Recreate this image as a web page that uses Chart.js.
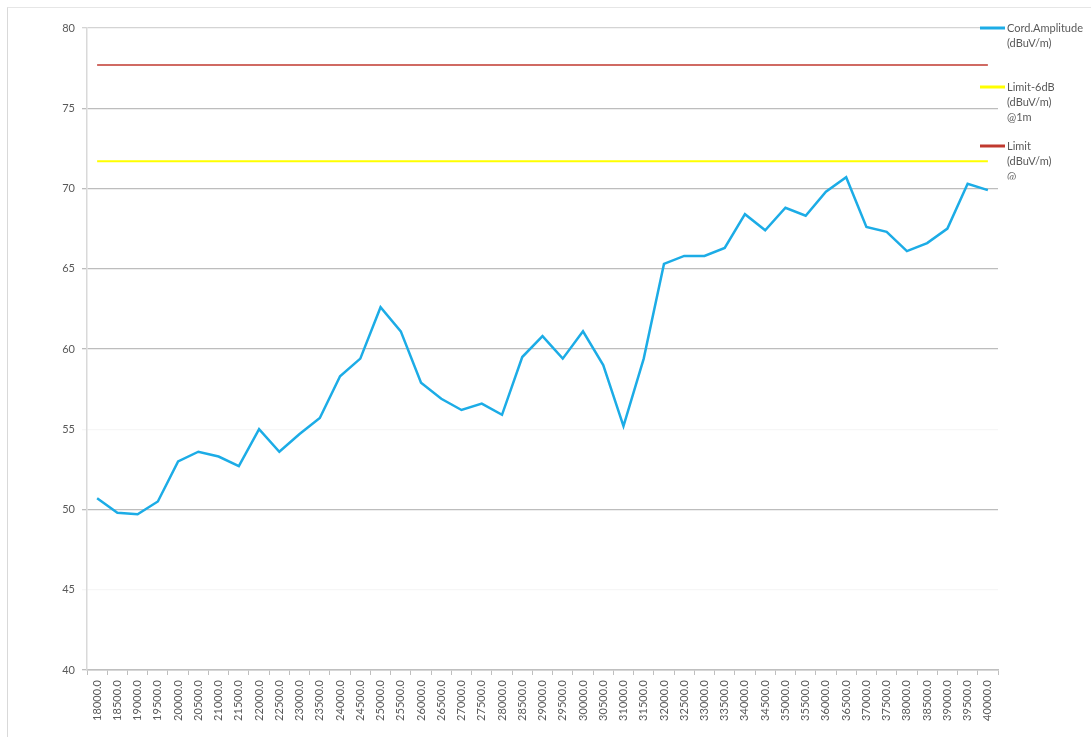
<!DOCTYPE html>
<html>
<head>
<meta charset="utf-8">
<script src="https://cdn.jsdelivr.net/npm/chart.js@4"></script>
<style>
    html, body { margin: 0; padding: 0; background: #fff; }
    .wrap { position: relative; width: 1091px; height: 737px; overflow: hidden; }
    .frame { position: absolute; left: 7px; top: 7px; width: 1100px; height: 740px;
             border-left: 1px solid #d9d9d9; border-top: 1px solid #e6e6e6; pointer-events: none; }
    canvas { position: absolute; left: 0; top: 0; }
</style>
</head>
<body>
<div class="wrap">
    <canvas id="emiChart" width="1091" height="737"></canvas>
    <div class="frame"></div>
</div>
<script>
// frequency points (MHz) on the x axis
const frequencies = [
    '18000.0', '18500.0', '19000.0', '19500.0', '20000.0', '20500.0', '21000.0', '21500.0',
    '22000.0', '22500.0', '23000.0', '23500.0', '24000.0', '24500.0', '25000.0', '25500.0',
    '26000.0', '26500.0', '27000.0', '27500.0', '28000.0', '28500.0', '29000.0', '29500.0',
    '30000.0', '30500.0', '31000.0', '31500.0', '32000.0', '32500.0', '33000.0', '33500.0',
    '34000.0', '34500.0', '35000.0', '35500.0', '36000.0', '36500.0', '37000.0', '37500.0',
    '38000.0', '38500.0', '39000.0', '39500.0', '40000.0'
];

const cordAmplitude = [
    50.7, 49.8, 49.7, 50.5, 53.0, 53.6, 53.3, 52.7,
    55.0, 53.6, 54.7, 55.7, 58.3, 59.4, 62.6, 61.1,
    57.9, 56.9, 56.2, 56.6, 55.9, 59.5, 60.8, 59.4,
    61.1, 59.0, 55.2, 59.4, 65.3, 65.8, 65.8, 66.3,
    68.4, 67.4, 68.8, 68.3, 69.8, 70.7, 67.6, 67.3,
    66.1, 66.6, 67.5, 70.3, 69.9
];

const limitLevel = 77.7;
const limitMinus6 = 71.7;

const yTicks = [40, 45, 50, 55, 60, 65, 70, 75, 80];

const legendItems = [
    { lines: ['Cord.Amplitude', '(dBuV/m)'], color: '#1cace6' },
    { lines: ['Limit-6dB', '(dBuV/m)', '@1m'], color: '#ffff00' },
    { lines: ['Limit', '(dBuV/m)', '@'], color: '#c0392f' }
];

document.addEventListener('DOMContentLoaded', () => {
    const ctx = document.getElementById('emiChart').getContext('2d');
    const textColor = '#595959';
    const fontFamily = 'Lato, "Open Sans", sans-serif';

    // side legend, drawn over the right edge like the original sheet chart
    const sideLegend = {
        id: 'sideLegend',
        afterDraw(chart) {
            const c = chart.ctx;
            const tops = [28, 87, 146];
            c.save();
            c.font = '11px ' + fontFamily;
            c.fillStyle = textColor;
            c.textBaseline = 'middle';
            legendItems.forEach((item, i) => {
                const y = tops[i];
                c.strokeStyle = item.color;
                c.lineWidth = 3;
                c.beginPath();
                c.moveTo(980, y);
                c.lineTo(1005, y);
                c.stroke();
                item.lines.forEach((txt, j) => {
                    const ty = y + j * 15.2;
                    if (i === 2 && j === 2) {
                        // last line is cut off in the source
                        c.save();
                        c.beginPath();
                        c.rect(1000, ty - 8, 40, 11);
                        c.clip();
                        c.fillText(txt, 1007, ty);
                        c.restore();
                    } else {
                        c.fillText(txt, 1007, ty);
                    }
                });
            });
            c.restore();
        }
    };

    new Chart(ctx, {
        type: 'line',
        data: {
            labels: frequencies,
            datasets: [
                {
                    label: 'Cord.Amplitude (dBuV/m)',
                    data: cordAmplitude,
                    borderColor: '#1cace6',
                    borderWidth: 2.5,
                    pointRadius: 0,
                    tension: 0
                },
                {
                    label: 'Limit-6dB (dBuV/m) @1m',
                    data: frequencies.map(() => limitMinus6),
                    borderColor: '#ffff00',
                    borderWidth: 2,
                    pointRadius: 0
                },
                {
                    label: 'Limit (dBuV/m) @',
                    data: frequencies.map(() => limitLevel),
                    borderColor: '#c0392f',
                    borderWidth: 1.5,
                    pointRadius: 0
                }
            ]
        },
        options: {
            responsive: false,
            animation: false,
            layout: {
                padding: { top: 28, right: 93, bottom: 0, left: 0 }
            },
            scales: {
                x: {
                    offset: true,
                    grid: {
                        offset: true,
                        drawOnChartArea: false,
                        drawTicks: true,
                        tickLength: 5,
                        color: '#bfbfbf'
                    },
                    border: { color: '#bfbfbf', width: 1.5 },
                    ticks: {
                        autoSkip: false,
                        maxRotation: 90,
                        minRotation: 90,
                        padding: 5,
                        color: textColor,
                        font: { family: fontFamily, size: 11 }
                    },
                    afterFit: (scale) => { scale.height = 67; }
                },
                y: {
                    min: 40,
                    max: 80,
                    afterBuildTicks: (scale) => {
                        scale.ticks = yTicks.map(v => ({ value: v }));
                    },
                    grid: {
                        tickLength: 5,
                        lineWidth: 1.3,
                        color: (c) => {
                            const v = c.tick ? c.tick.value : 0;
                            if (v === 55 || v === 45) return '#f6f6f6';
                            if (v === 80) return '#d4d4d4';
                            return '#bdbdbd';
                        }
                    },
                    border: { color: '#d9d9d9', width: 1.5 },
                    ticks: {
                        padding: 7,
                        color: textColor,
                        font: { family: fontFamily, size: 11 }
                    },
                    afterFit: (scale) => { scale.width = 87; }
                }
            },
            plugins: {
                legend: { display: false },
                tooltip: { enabled: false }
            }
        },
        plugins: [sideLegend]
    });
});
</script>
</body>
</html>
